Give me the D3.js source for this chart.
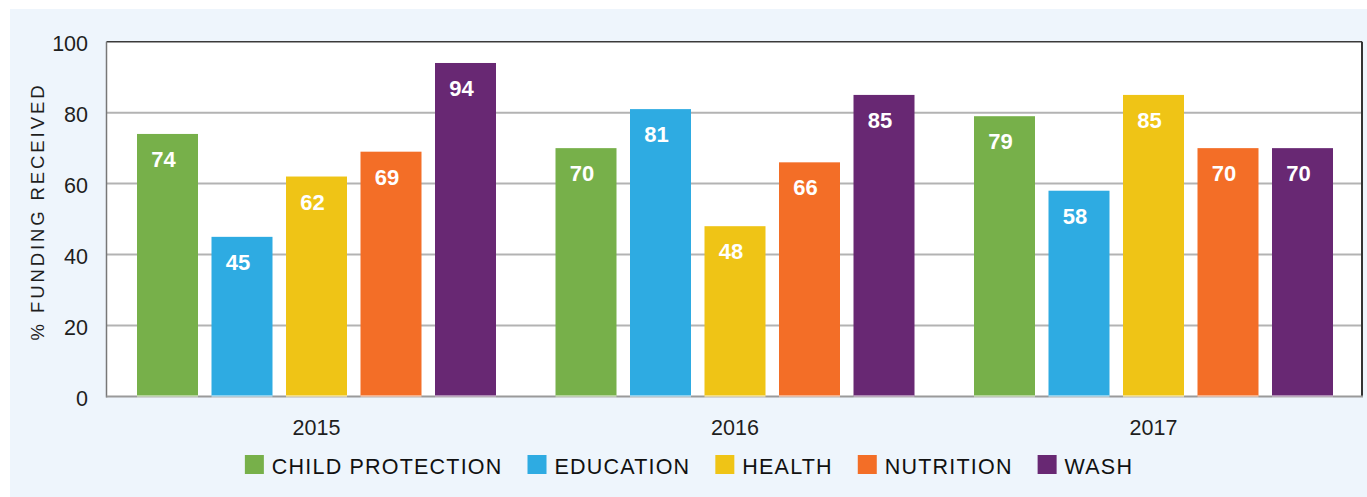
<!DOCTYPE html>
<html>
<head>
<meta charset="utf-8">
<script src="https://cdn.jsdelivr.net/npm/d3@7"></script>
<style>
  html, body { margin: 0; padding: 0; background: #ffffff; }
  svg { display: block; font-family: "Liberation Sans", Arial, Helvetica, sans-serif; }
</style>
</head>
<body>
<svg id="chart" width="1367" height="497"></svg>
<script>
const years = ["2015", "2016", "2017"];
const categories = ["CHILD PROTECTION", "EDUCATION", "HEALTH", "NUTRITION", "WASH"];
const childProtection = [74, 70, 79];
const education = [45, 81, 58];
const health = [62, 48, 85];
const nutrition = [69, 66, 70];
const wash = [94, 85, 70];
const yTicks = [0, 20, 40, 60, 80, 100];
const colors = ["#77B04A", "#2EABE2", "#EFC416", "#F36E27", "#682873"];
const seriesValues = [childProtection, education, health, nutrition, wash];

(function () {
const svg = d3.select("#chart");
const W = 1367, H = 497;

// panel background
svg.append("rect").attr("x", 10).attr("y", 9).attr("width", W - 10).attr("height", H - 9).attr("fill", "#EEF5FC");

const pLeft = 106.5, pRight = 1362, pTop = 41.7, pBottom = 396.5;

svg.append("rect").attr("x", pLeft).attr("y", pTop).attr("width", pRight - pLeft).attr("height", pBottom - pTop).attr("fill", "#ffffff");

const y = d3.scaleLinear().domain([0, 100]).range([pBottom, pTop]);
const x0 = d3.scaleBand().domain(years).range([pLeft, pRight]).paddingInner(0).paddingOuter(0);
const groupW = x0.bandwidth();
const x1 = d3.scaleBand().domain(categories).range([30.5, 30.5 + 359]).paddingInner(13.5 / 74.5).paddingOuter(0);

// gridlines
svg.append("g").selectAll("line").data(yTicks.filter(t => t > 0 && t < 100)).join("line")
  .attr("x1", pLeft).attr("x2", pRight)
  .attr("y1", d => y(d)).attr("y2", d => y(d))
  .attr("stroke", "#b3b3b3").attr("stroke-width", 2);

// frame
svg.append("line").attr("x1", pLeft).attr("x2", pRight).attr("y1", pTop).attr("y2", pTop).attr("stroke", "#3a3a3a").attr("stroke-width", 1.5);
svg.append("line").attr("x1", pRight).attr("x2", pRight).attr("y1", pTop).attr("y2", pBottom).attr("stroke", "#333333").attr("stroke-width", 2);
svg.append("line").attr("x1", pLeft).attr("x2", pLeft).attr("y1", pTop).attr("y2", pBottom + 1).attr("stroke", "#777777").attr("stroke-width", 1.5);
svg.append("line").attr("x1", pLeft).attr("x2", pRight + 1).attr("y1", pBottom).attr("y2", pBottom).attr("stroke", "#9a9a9a").attr("stroke-width", 2);

// bars
const data = [];
years.forEach((yr, i) => {
  categories.forEach((c, j) => {
    data.push({ year: yr, cat: c, value: seriesValues[j][i], color: colors[j] });
  });
});

const bars = svg.append("g").selectAll("g").data(data).join("g")
  .attr("transform", d => `translate(${x0(d.year) + x1(d.cat)},0)`);

bars.append("rect")
  .attr("x", 0).attr("width", x1.bandwidth())
  .attr("y", d => y(d.value)).attr("height", d => y(0) - y(d.value))
  .attr("fill", d => d.color);

bars.append("rect")
  .attr("x", 0).attr("width", x1.bandwidth())
  .attr("y", y(0) - 1.5).attr("height", 2.5)
  .attr("fill", "#ffffff").attr("opacity", 0.45);

bars.append("text")
  .attr("x", x1.bandwidth() / 2 - 4)
  .attr("y", d => y(d.value) + 33)
  .attr("text-anchor", "middle")
  .attr("fill", "#ffffff")
  .attr("font-weight", "bold")
  .attr("font-size", "22px")
  .text(d => d.value);

// y axis labels
const yAxis = d3.axisLeft(y).tickValues(yTicks).tickSize(0).tickPadding(0);
const gy = svg.append("g").attr("transform", `translate(88,0)`).call(yAxis);
gy.select(".domain").remove();
gy.selectAll("text").attr("font-size", "21.5px").attr("fill", "#1e1e1e")
  .attr("font-family", "'Liberation Sans', Arial, sans-serif").attr("dy", "0.42em");

// x axis labels
const xAxis = d3.axisBottom(x0).tickSize(0).tickPadding(0);
const gx = svg.append("g").attr("transform", `translate(${x1.range()[0] + 359 / 2 - groupW / 2},0)`).call(xAxis);
gx.select(".domain").remove();
gx.selectAll("text").attr("font-size", "21.5px").attr("fill", "#1e1e1e")
  .attr("font-family", "'Liberation Sans', Arial, sans-serif")
  .attr("y", 434.5).attr("dy", 0);

// y title
svg.append("text")
  .attr("transform", `translate(43.5,211.5) rotate(-90)`)
  .attr("text-anchor", "middle")
  .attr("font-size", "18.5px")
  .attr("letter-spacing", "2.9px")
  .attr("fill", "#1e1e1e")
  .text("% FUNDING RECEIVED");

// legend
const legend = svg.append("g");
let lx = 0;
categories.forEach((c, j) => {
  const g = legend.append("g");
  g.append("rect").attr("x", 0).attr("y", 455).attr("width", 19).attr("height", 19).attr("fill", colors[j]);
  const t = g.append("text").attr("x", 27).attr("y", 474).attr("font-size", "21.5px")
    .attr("letter-spacing", "1.2px").attr("fill", "#111111").text(c);
  const tw = t.node().getComputedTextLength();
  g.attr("transform", `translate(${lx},0)`);
  lx += 27 + tw + 25;
});
const totalW = lx - 25;
legend.attr("transform", `translate(${689 - totalW / 2},0)`);
})();
</script>
</body>
</html>
